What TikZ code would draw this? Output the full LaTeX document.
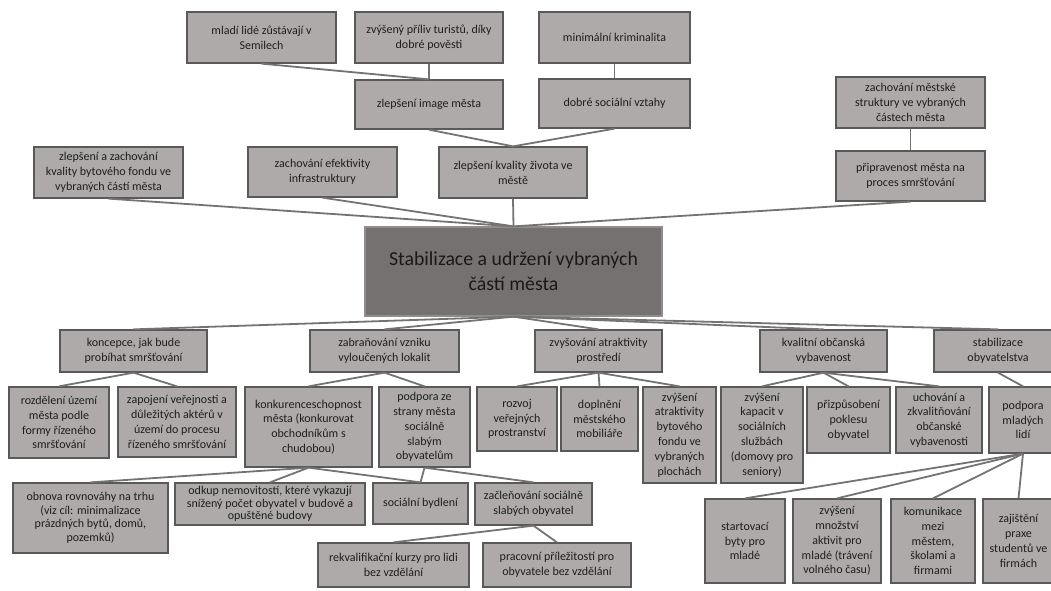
\documentclass[tikz,border=0pt]{standalone}
\usepackage{fontspec}
\setmainfont{Carlito}
\definecolor{boxfill}{HTML}{AEAAAA}
\definecolor{boxline}{HTML}{595959}
\definecolor{mainfill}{HTML}{767171}
\definecolor{linkgray}{HTML}{737373}
\definecolor{txtgray}{HTML}{1E1E1E}

\tikzset{
  box/.style = {draw = boxline, fill = boxfill, line width = 1.3pt, align = center,
    inner sep = 2pt, text = txtgray, font = \fontsize{12}{14.8}\selectfont},
  wh/.style 2 args = {minimum width = #1pt, minimum height = #2pt},
  mainbox/.style = {box, fill = mainfill, draw = mainfill!80!white,
    text = black!90, font = \fontsize{19.8}{25}\selectfont},
  link/.style = {draw = linkgray, line width = 1.8pt},
}

\begin{document}
\begin{tikzpicture}[x = 1pt, y = -1pt]
        \useasboundingbox (0,0) rectangle (1051,590);
        \clip (0,0) rectangle (1051,590);

        % goal
        \node[mainbox, wh = {297}{89}] (stab) at (513.5,271.5) {Stabilizace a udržení vybraných\\částí města};

        % upper part
        \node[box, wh = {149}{51}] (mladi) at (261.5,37.5) {mladí lidé zůstávají v\\Semilech};
        \node[box, wh = {148}{51}] (turiste) at (429,37.5) {zvýšený příliv turistů, díky\\dobré pověsti};
        \node[box, wh = {151}{51}] (krimi) at (614.5,37.5) {minimální kriminalita};
        \node[box, wh = {148}{49}] (image) at (429,104.5) {zlepšení image města};
        \node[box, wh = {151}{49}] (vztahy) at (614.5,103.5) {dobré sociální vztahy};
        \node[box, wh = {148}{51}] (kvalita) at (513,172.5) {zlepšení kvality života ve\\městě};
        \node[box, wh = {149}{51}] (fond) at (108.5,172.5) {zlepšení a zachování\\kvality bytového fondu ve\\vybraných částí města};
        \node[box, wh = {149}{50}] (infra) at (322.5,172) {zachování efektivity\\infrastruktury};
        \node[box, wh = {149}{51}] (struktura) at (910.5,102.5) {zachování městské\\struktury ve vybraných\\částech města};
        \node[box, wh = {149}{50}] (priprav) at (910.5,176) {připravenost města na\\proces smršťování};

        \draw[link] (mladi.south) -- (image.north);
        \draw[link] (turiste.south) -- (image.north);
        \draw[link] (krimi.south) -- (vztahy.north);
        \draw[link] (image.south) -- (kvalita.north);
        \draw[link] (vztahy.south) -- (kvalita.north);
        \draw[link] (struktura.south) -- (priprav.north);
        \foreach \n in {fond, infra, kvalita, priprav}
            \draw[link] (\n.south) -- (stab.north);

        % lower part, second level
        \node[box, wh = {147}{42}] (koncepce) at (133.5,351) {koncepce, jak bude\\probíhat smršťování};
        \node[box, wh = {149}{42}] (zabran) at (384.5,351) {zabraňování vzniku\\vyloučených lokalit};
        \node[box, wh = {127}{42}] (atrakt) at (598.5,351) {zvyšování atraktivity\\prostředí};
        \node[box, wh = {127}{42}] (obcan) at (823.5,351) {kvalitní občanská\\vybavenost};
        \node[box, wh = {128}{42}] (obyv) at (998,351) {stabilizace\\obyvatelstva};
        \foreach \n in {koncepce, zabran, atrakt, obcan, obyv}
            \draw[link] (stab.south) -- (\n.north);

        % third level
        \node[box, wh = {100}{71}] (rozdeleni) at (59,422.5) {rozdělení území\\města podle\\formy řízeného\\smršťování};
        \node[box, wh = {118}{70}] (zapojeni) at (177,422) {zapojení veřejnosti a\\důležitých aktérů v\\území do procesu\\řízeného smršťování};
        \node[box, wh = {127}{80}] (konkur) at (308.5,427) {konkurenceschopnost\\města (konkurovat\\obchodníkům s\\chudobou)};
        \node[box, wh = {91}{80}] (podsoc) at (424.5,427) {podpora ze\\strany města\\sociálně\\slabým\\obyvatelům};
        \node[box, wh = {80}{64}] (rozvoj) at (517,419) {rozvoj\\veřejných\\prostranství};
        \node[box, wh = {77}{64}] (mobiliar) at (599.5,419) {doplnění\\městského\\mobiliáře};
        \node[box, wh = {73}{96}] (bytfond) at (679.5,435) {zvýšení\\atraktivity\\bytového\\fondu ve\\vybraných\\plochách};
        \node[box, wh = {82}{96}] (kapacit) at (762,435) {zvýšení\\kapacit v\\sociálních\\službách\\(domovy pro\\seniory)};
        \node[box, wh = {83}{66}] (pokles) at (848.5,420) {přizpůsobení\\poklesu\\obyvatel};
        \node[box, wh = {86}{66}] (uchovani) at (939,420) {uchování a\\zkvalitňování\\občanské\\vybavenosti};
        \node[box, wh = {68}{66}] (mladych) at (1023,420) {podpora\\mladých\\lidí};

        \draw[link] (koncepce.south) -- (rozdeleni.north);
        \draw[link] (koncepce.south) -- (zapojeni.north);
        \draw[link] (zabran.south) -- (konkur.north);
        \draw[link] (zabran.south) -- (podsoc.north);
        \foreach \n in {rozvoj, mobiliar, bytfond}
            \draw[link] (atrakt.south) -- (\n.north);
        \foreach \n in {kapacit, pokles, uchovani}
            \draw[link] (obcan.south) -- (\n.north);
        \draw[link] (obyv.south) -- (mladych.north);

        % fourth level
        \node[box, wh = {155}{70}, font = \fontsize{12}{13.5}\selectfont] (obnova) at (90.5,518) {obnova rovnováhy na trhu\\(viz cíl: minimalizace\\prázdných bytů, domů,\\pozemků)};
        \node[box, wh = {190}{42}, inner sep = 1pt, font = \fontsize{12}{12.6}\selectfont] (odkup) at (270,504) {odkup nemovitostí, které vykazují\\snížený počet obyvatel v budově a\\opuštěné budovy};
        \node[box, wh = {95}{41}] (bydleni) at (420.5,503.5) {sociální bydlení};
        \node[box, wh = {117}{42}] (zaclen) at (533.5,504) {začleňování sociálně\\slabých obyvatel};
        \node[box, wh = {151}{44}] (rekval) at (393.5,565) {rekvalifikační kurzy pro lidi\\bez vzdělání};
        \node[box, wh = {148}{44}] (pracovni) at (557,565) {pracovní příležitostí pro\\obyvatele bez vzdělání};

        \foreach \n in {obnova, odkup, bydleni}
            \draw[link] (konkur.south) -- (\n.north);
        \draw[link] (podsoc.south) -- (bydleni.north);
        \draw[link] (podsoc.south) -- (zaclen.north);
        \draw[link] (zaclen.south) -- (rekval.north);
        \draw[link] (zaclen.south) -- (pracovni.north);

        \node[box, wh = {80}{84}] (startovaci) at (745,541) {startovací\\byty pro\\mladé};
        \node[box, wh = {88}{84}] (mnozstvi) at (837,541) {zvýšení\\množství\\aktivit pro\\mladé (trávení\\volného času)};
        \node[box, wh = {84}{84}] (komunikace) at (933,541) {komunikace\\mezi\\městem,\\školami a\\firmami};
        \node[box, wh = {71}{84}] (praxe) at (1018.5,541) {zajištění\\praxe\\studentů ve\\firmách};
        \foreach \n in {startovaci, mnozstvi, komunikace, praxe}
            \draw[link] (mladych.south) -- (\n.north);
\end{tikzpicture}
\end{document}
